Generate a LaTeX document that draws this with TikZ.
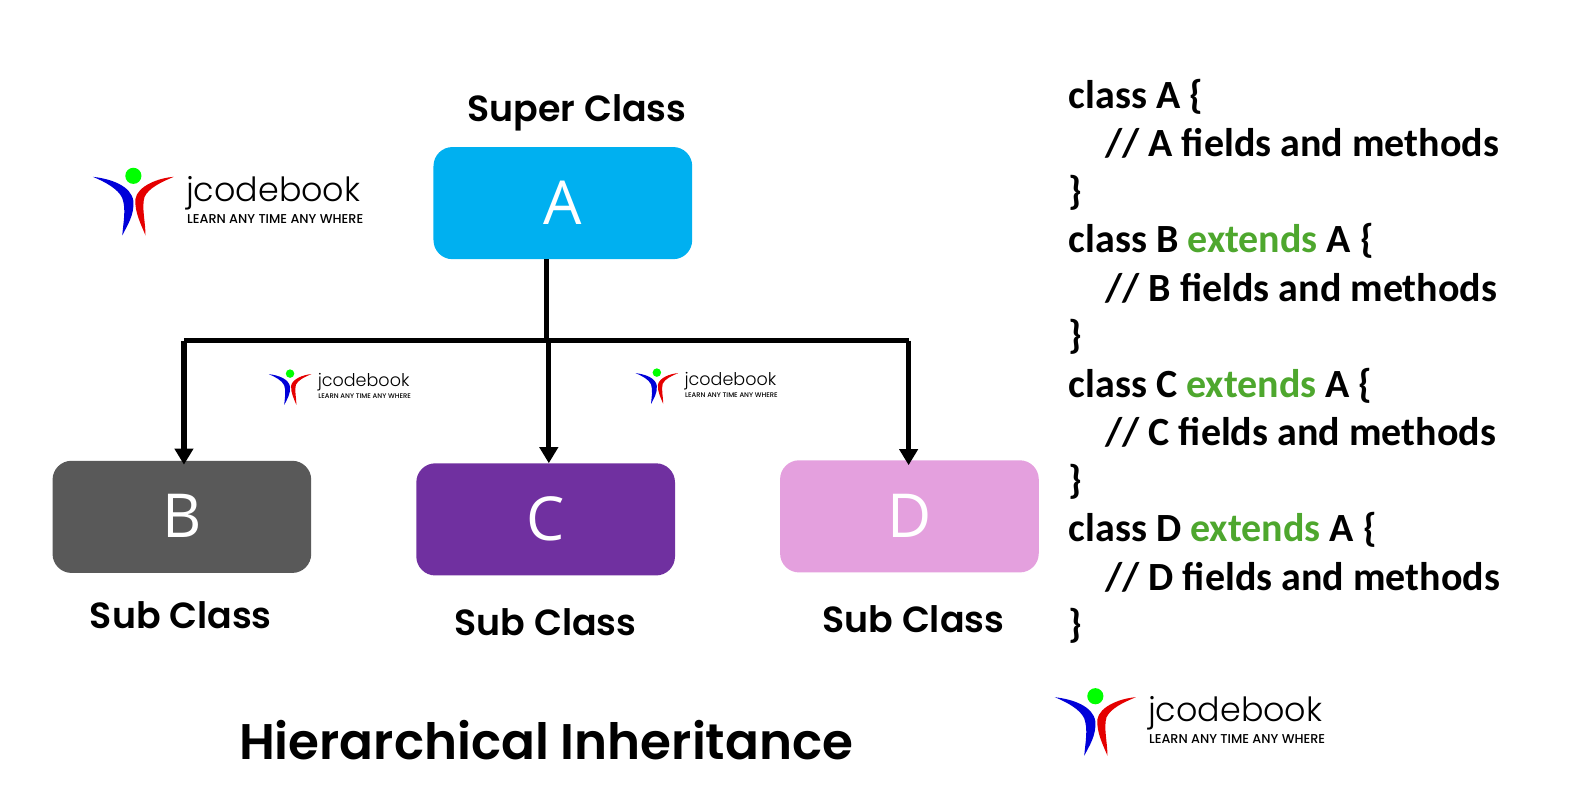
\documentclass[tikz,border=0pt]{standalone}
\usepackage{fontspec}
\setmainfont{Open Sans}
\newfontfamily\codefont{Carlito}
\newfontfamily\headfont{Poppins}[BoldFont=* SemiBold]
\newfontfamily\logofont{Poppins}[UprightFont=* Light]
\newfontfamily\tagfont{Poppins}[UprightFont=* Medium]
\usetikzlibrary{arrows.meta}
\definecolor{cA}{HTML}{00B0F0}
\definecolor{cB}{HTML}{595959}
\definecolor{cC}{HTML}{7030A0}
\definecolor{cD}{HTML}{E4A0DE}
\definecolor{cG}{HTML}{4EA72E}
\tikzset{
  classbox/.style={rounded corners=19pt,minimum width=256pt,minimum height=111pt,inner sep=0pt,text=white,font=\fontsize{60}{60}\selectfont},
  caption/.style={font=\fontsize{36}{36}\selectfont\headfont\bfseries,inner sep=0pt},
  link/.style={line width=5.2pt,black},
  tiplink/.style={link,-{Triangle[length=16pt,width=18pt]}},
  code/.style={anchor=base west,inner sep=0pt,font=\fontsize{39.6}{39.6}\selectfont\codefont\bfseries},
}
\newcommand{\kw}[1]{\textcolor{cG}{#1}}
\newcommand{\jlogo}[4]{%
\begin{scope}[shift={(#2,#3)},scale=#4,transform shape]
  \fill[green] (40,9) circle (8);
  \fill[blue!85!black] (0,10) .. controls (18,12) and (38,19) .. (40,34) .. controls (41,48) and (34,58) .. (29,68) .. controls (30,55) and (33,42) .. (29,31) .. controls (25,22) and (12,15) .. (0,10) -- cycle;
  \fill[red!90!black] (80,10) .. controls (65,11) and (44,19) .. (42,32) .. controls (41,45) and (48,58) .. (52,68) .. controls (52,55) and (48,40) .. (51,30) .. controls (55,21) and (68,15) .. (80,10) -- cycle;
  \node[anchor=base west,inner sep=0pt,font=\fontsize{33}{33}\selectfont\logofont] (#1name) at (92,34) {jcodebook};
  \node[anchor=base west,inner sep=0pt,font=\fontsize{12.7}{12.7}\selectfont\tagfont] (#1tag) at (93,56) {LEARN ANY TIME ANY WHERE};
\end{scope}}
\begin{document}
\begin{tikzpicture}[x=1pt,y=-1pt,scale=1.0105,every node/.append style={transform shape}]
\useasboundingbox (0,0) rectangle (1565.6,799.6);
\node[classbox,fill=cA] (A) at (557,201) {A};
\node[classbox,fill=cB] (B) at (180,511.5) {\raisebox{1.5pt}{B}};
\node[classbox,fill=cC] (C) at (540,514) {\raisebox{1.5pt}{C}};
\node[classbox,fill=cD] (D) at (900,511) {\raisebox{1.5pt}{D}};
\node[caption] (capA) at (571,112) {Super Class};
\node[caption] (capB) at (179,609) {Sub Class};
\node[caption] (capC) at (540,616) {Sub Class};
\node[caption] (capD) at (904,613) {Sub Class};
\node[font=\fontsize{49.5}{49.5}\selectfont\headfont\bfseries,inner sep=0pt] (title) at (540.5,732) {Hierarchical Inheritance};
\coordinate (hub) at (541,337);
\coordinate (busB) at (182,337);
\coordinate (busC) at (543,337);
\coordinate (busD) at (899,337);
\draw[link] (A.south -| hub) -- (hub);
\draw[link,line join=round] (busB) -- (busD);
\draw[tiplink,shorten >=-4pt] (busB) -- (busB |- B.north);
\draw[tiplink] (busC) -- (busC |- C.north);
\draw[tiplink,shorten >=-5pt] (busD) -- (busD |- D.north);
\jlogo{a}{92}{165}{1}
\jlogo{b}{266}{365}{0.526}
\jlogo{c}{629}{364}{0.526}
\jlogo{d}{1044}{680}{1}
\node[code] (l1) at (1057.5,107) {class A \{};
\node[code] (l2) at (1093.5,155) {// A fields and methods};
\node[code] (l3) at (1057.5,202) {\}};
\node[code] (l4) at (1057.5,250) {class B \kw{extends} A \{};
\node[code] (l5) at (1093.5,298) {// B fields and methods};
\node[code] (l6) at (1057.5,345) {\}};
\node[code] (l7) at (1057.5,393) {class C \kw{extends} A \{};
\node[code] (l8) at (1093.5,441) {// C fields and methods};
\node[code] (l9) at (1057.5,488) {\}};
\node[code] (l10) at (1057.5,536) {class D \kw{extends} A \{};
\node[code] (l11) at (1093.5,584) {// D fields and methods};
\node[code] (l12) at (1057.5,631) {\}};
\end{tikzpicture}
\end{document}
